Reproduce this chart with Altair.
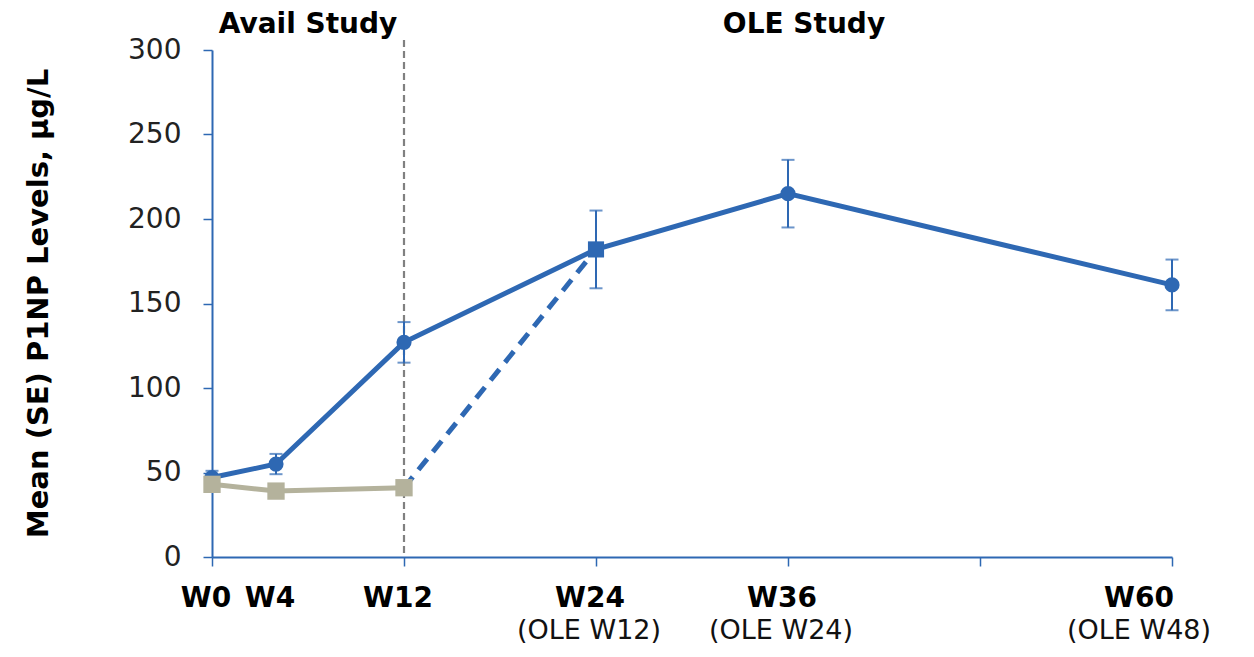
import altair as alt
import pandas as pd

# ---- data ----
weeks = [0, 4, 12, 24, 36, 60]
blue_mean = [47, 55, 127, 182, 215, 161]
blue_se = [4, 6, 12, 23, 20, 15]

gray_weeks = [0, 4, 12]
gray_mean = [43, 39, 41]
gray_se = [3, 4, 3]

switch_weeks = [12, 24]
switch_mean = [41, 182]

tick_labels = ["W0", "W4", "W12", "W24", "W36", "W60"]
sub_labels = ["", "", "", "(OLE W12)", "(OLE W24)", "(OLE W48)"]
x_ticks = [0, 12, 24, 36, 48, 60]
y_ticks = [0, 50, 100, 150, 200, 250, 300]

BLUE = "#2E68B3"
GRAY = "#B4B29C"
FONT = "DejaVu Sans"

blue = pd.DataFrame({"week": weeks, "val": blue_mean,
                     "lo": [m - s for m, s in zip(blue_mean, blue_se)],
                     "hi": [m + s for m, s in zip(blue_mean, blue_se)]})
blue_circ = blue[blue["week"] != 24]
blue_sq = blue[blue["week"] == 24]
gray = pd.DataFrame({"week": gray_weeks, "val": gray_mean,
                     "lo": [m - s for m, s in zip(gray_mean, gray_se)],
                     "hi": [m + s for m, s in zip(gray_mean, gray_se)]})
switch = pd.DataFrame({"week": switch_weeks, "val": switch_mean})
labels = pd.DataFrame({"week": weeks, "lab": tick_labels, "sub": sub_labels})

xscale = alt.Scale(domain=[0, 60], nice=False, zero=True)
yscale = alt.Scale(domain=[0, 300], nice=False)
xaxis = alt.Axis(values=x_ticks, labels=False, title=None, grid=False,
                 domainColor=BLUE, domainWidth=2, tickColor=BLUE, tickWidth=1.5,
                 tickSize=9)
yaxis = alt.Axis(values=y_ticks, title="Mean (SE) P1NP Levels, µg/L", grid=False,
                 domainColor=BLUE, domainWidth=2, tickColor=BLUE, tickWidth=1.5,
                 tickSize=9, labelPadding=22, labelFont=FONT, labelFontSize=28,
                 labelColor="#222222", titleFont=FONT, titleFontSize=29,
                 titleFontWeight="bold", titleColor="#000000", titleX=-174,
                 titleY=253, titleAngle=-90, titleAlign="center",
                 titleBaseline="middle")

X = alt.X("week:Q", scale=xscale, axis=xaxis)
Y = alt.Y("val:Q", scale=yscale, axis=yaxis)

vrule = alt.Chart(pd.DataFrame({"week": [12]})).mark_rule(
    color="#808080", strokeDash=[7, 4], strokeWidth=2.2
).encode(x=X, y=alt.value(-10), y2=alt.value(507))

blue_line = alt.Chart(blue).mark_line(color=BLUE, strokeWidth=5).encode(x=X, y=Y)
blue_err = alt.Chart(blue).mark_rule(color=BLUE, strokeWidth=2).encode(
    x=X, y=alt.Y("lo:Q", scale=yscale, axis=yaxis), y2="hi:Q")
blue_cap_lo = alt.Chart(blue).mark_tick(color=BLUE, orient="horizontal", size=13,
                                         thickness=2).encode(
    x=X, y=alt.Y("lo:Q", scale=yscale, axis=yaxis))
blue_cap_hi = alt.Chart(blue).mark_tick(color=BLUE, orient="horizontal", size=13,
                                         thickness=2).encode(
    x=X, y=alt.Y("hi:Q", scale=yscale, axis=yaxis))
blue_pts = alt.Chart(blue_circ).mark_point(shape="circle", filled=True, size=230,
                                            color=BLUE, opacity=1).encode(x=X, y=Y)

switch_line = alt.Chart(switch).mark_line(color=BLUE, strokeWidth=5,
                                          strokeDash=[14, 9]).encode(x=X, y=Y)
blue_sqr = alt.Chart(blue_sq).mark_point(shape="square", filled=True, size=260,
                                         color=BLUE, opacity=1).encode(x=X, y=Y)

gray_line = alt.Chart(gray).mark_line(color=GRAY, strokeWidth=5).encode(x=X, y=Y)
gray_err = alt.Chart(gray).mark_rule(color=GRAY, strokeWidth=2).encode(
    x=X, y=alt.Y("lo:Q", scale=yscale, axis=yaxis), y2="hi:Q")
gray_cap_lo = alt.Chart(gray).mark_tick(color=GRAY, orient="horizontal", size=13,
                                         thickness=2).encode(
    x=X, y=alt.Y("lo:Q", scale=yscale, axis=yaxis))
gray_cap_hi = alt.Chart(gray).mark_tick(color=GRAY, orient="horizontal", size=13,
                                         thickness=2).encode(
    x=X, y=alt.Y("hi:Q", scale=yscale, axis=yaxis))
gray_pts = alt.Chart(gray).mark_point(shape="square", filled=True, size=300,
                                      color=GRAY, opacity=1).encode(x=X, y=Y)

lab_main = alt.Chart(labels).transform_filter("datum.week < 60").mark_text(
    font=FONT, fontSize=28, fontWeight="bold", color="#000000", dx=-6,
    baseline="middle").encode(x=X, y=alt.value(549), text="lab:N")
lab_sub = alt.Chart(labels).transform_filter("datum.week < 60").mark_text(
    font=FONT, fontSize=27, color="#111111", dx=-7,
    baseline="middle").encode(x=X, y=alt.value(581), text="sub:N")
lab_main_end = alt.Chart(labels).transform_filter("datum.week == 60").mark_text(
    font=FONT, fontSize=28, fontWeight="bold", color="#000000", dx=-33,
    baseline="middle").encode(x=X, y=alt.value(549), text="lab:N")
lab_sub_end = alt.Chart(labels).transform_filter("datum.week == 60").mark_text(
    font=FONT, fontSize=27, color="#111111", dx=-33,
    baseline="middle").encode(x=X, y=alt.value(581), text="sub:N")

heads = pd.DataFrame({"week": [6, 37], "head": ["Avail Study", "OLE Study"]})
head_txt = alt.Chart(heads).mark_text(
    font=FONT, fontSize=28, fontWeight="bold", color="#000000",
    baseline="middle").encode(x=X, y=alt.value(-25), text="head:N")

chart = alt.layer(
    vrule, blue_line, blue_err, blue_cap_lo, blue_cap_hi, blue_pts,
    switch_line, blue_sqr,
    gray_line, gray_err, gray_cap_lo, gray_cap_hi, gray_pts,
    lab_main, lab_sub, lab_main_end, lab_sub_end, head_txt
).properties(
    width=960, height=507,
    autosize=alt.AutoSizeParams(type="none"),
    padding={"left": 204, "top": 42, "right": 60, "bottom": 92},
).configure(background="white").configure_view(stroke=None)

chart.save("out.html", embed_options={"renderer": "svg", "actions": False})
